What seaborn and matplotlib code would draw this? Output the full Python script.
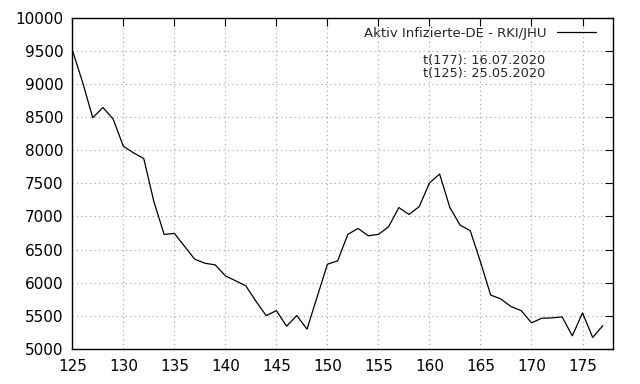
import numpy as np
import pandas as pd
import matplotlib
matplotlib.use("Agg")
import matplotlib.pyplot as plt
import seaborn as sns

# days (t) and active infections
days = list(range(125, 178))
active = [9510, 9030, 8490, 8645, 8470, 8060, 7960, 7875, 7220, 6730,
          6745, 6550, 6355, 6295, 6270, 6105, 6030, 5955, 5720, 5505,
          5580, 5345, 5505, 5300, 5790, 6280, 6330, 6730, 6820, 6710,
          6730, 6845, 7135, 7030, 7150, 7505, 7640, 7135, 6870, 6785,
          6315, 5815, 5755, 5640, 5580, 5395, 5465, 5470, 5485, 5200,
          5545, 5175, 5355]
series_name = "Aktiv Infizierte-DE - RKI/JHU"
notes = ["t(177): 16.07.2020", "t(125): 25.05.2020"]

df = pd.DataFrame({"t": days, "aktiv": active})

sns.set_style("white")
plt.rcParams["font.family"] = ["DejaVu Sans"]

f, ax = plt.subplots(figsize=(6.4, 3.84), dpi=100)
f.subplots_adjust(left=0.113, right=0.958, bottom=0.091, top=0.954)

sns.lineplot(x="t", y="aktiv", data=df, color="black", linewidth=0.9,
             label=series_name, ax=ax)

ax.set_xlim(125, 178)
ax.set_ylim(5000, 10000)
ax.set_xticks(np.arange(125, 176, 5))
ax.set_yticks(np.arange(5000, 10001, 500))
ax.set_xlabel("")
ax.set_ylabel("")
ax.tick_params(direction="in", top=True, right=True, length=6, width=0.8,
               labelsize=11, colors="black")
ax.tick_params(axis="y", pad=6.5)
ax.tick_params(axis="x", pad=7)
ax.grid(True, linestyle=(0, (1, 3)), color="#a0a0a0", linewidth=0.8)
for s in ax.spines.values():
    s.set_color("black")
    s.set_linewidth(1.0)

leg = ax.legend(loc="center right", frameon=False, markerfirst=False,
                fontsize=9.5, handlelength=3.0, handletextpad=0.76,
                borderpad=0, borderaxespad=0,
                bbox_to_anchor=(0.9686, 0.953))

ax.text(0.874, 0.872, notes[0], transform=ax.transAxes, ha="right",
        va="center", fontsize=9.3)
ax.text(0.874, 0.833, notes[1], transform=ax.transAxes, ha="right",
        va="center", fontsize=9.3)

f.savefig("out.png", dpi=100)
